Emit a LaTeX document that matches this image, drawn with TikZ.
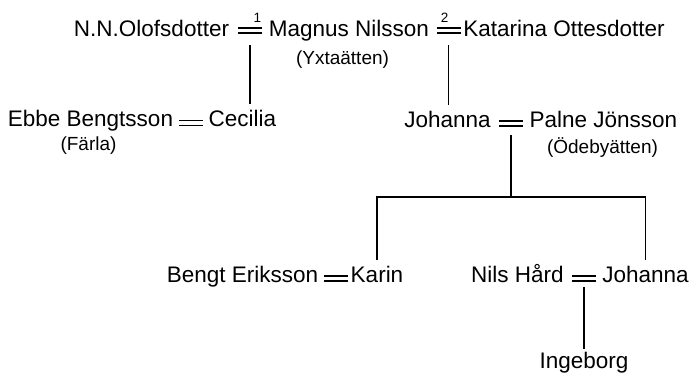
\documentclass[tikz,border=0pt]{standalone}
\usepackage{fontspec}
\setmainfont{Liberation Sans}
\usepackage{tkz-euclide}

\begin{document}
\begin{tikzpicture}[x=1pt, y=-1pt,
    person/.style={anchor=base, inner sep=0pt, outer sep=5.5pt, font=\fontsize{22.5}{27}\selectfont},
    farm/.style={anchor=base, inner sep=0pt, font=\fontsize{19}{23}\selectfont},
    nr/.style={anchor=base, inner sep=0pt, font=\fontsize{13.5}{16}\selectfont},
    marr/.style={double, double distance=3.6pt, line width=1.6pt},
    conn/.style={line width=1.6pt}]
    \useasboundingbox (0,0) rectangle (691,373);
    \tkzDefPoints{250/30.5/m1, 448.5/30.5/m2, 191/123/m3, 511/123.5/m4, 335.5/278.5/m5, 584/278.5/m6}
    \node[person] (olof) at (151.5,36) {N.N.Olofsdotter};
    \node[person] (magnus) at (349,36) {Magnus Nilsson};
    \node[farm] (yxta) at (342.5,64) {(Yxtaätten)};
    \node[person] (katarina) at (564,36) {Katarina Ottesdotter};
    \node[nr] (n1) at (257.5,22) {1};
    \node[nr] (n2) at (444.5,22) {2};
    \node[person] (ebbe) at (90.5,126) {Ebbe Bengtsson};
    \node[farm] (farla) at (88.5,150) {(Färla)};
    \node[person] (cecilia) at (242.5,126) {Cecilia};
    \node[person] (johanna) at (447.5,127) {Johanna};
    \node[person] (palne) at (603.5,127) {Palne Jönsson};
    \node[farm] (odeby) at (602.5,153) {(Ödebyätten)};
    \node[person] (bengt) at (242.5,282) {Bengt Eriksson};
    \node[person] (karin) at (377,282) {Karin};
    \node[person] (nils) at (517.5,282) {Nils Hård};
    \node[person] (johannab) at (645.5,282) {Johanna};
    \node[person, outer sep=2.5pt] (ingeborg) at (584,368) {Ingeborg};
    \foreach \m in {1,...,6}
        \draw[marr] (m\m) ++(-12,0) -- ++(24,0);
    \coordinate (bar) at (511,197);
    \draw[conn] ([yshift=-14.5pt]m1) -- (m1 |- cecilia.north);
    \draw[conn] ([yshift=-14.5pt]m2) -- (m2 |- johanna.north);
    \draw[conn] ([yshift=-11.5pt]m4) -- (m4 |- bar);
    \draw[conn] (karin.north) -- (karin.north |- bar) -- (johannab.north |- bar) -- (johannab.north);
    \draw[conn] ([yshift=-8.5pt]m6) -- (m6 |- ingeborg.north);
\end{tikzpicture}
\end{document}
